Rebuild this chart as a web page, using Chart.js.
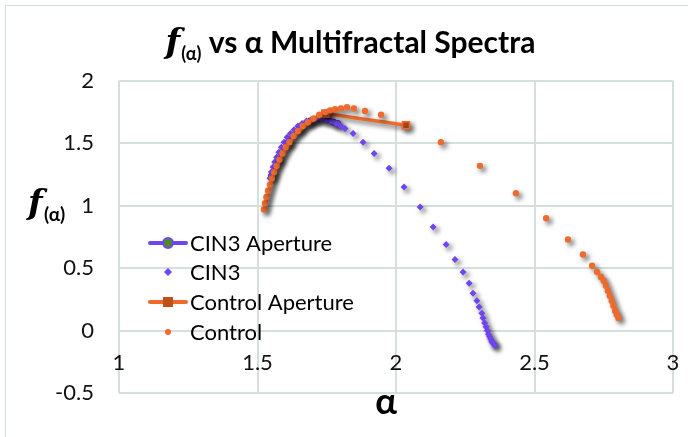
<!DOCTYPE html>
<html>
<head>
<meta charset="utf-8">
<script src="https://cdn.jsdelivr.net/npm/chart.js@4/dist/chart.umd.min.js"></script>
<style>
  html, body { margin: 0; padding: 0; background: #fff; }
  #wrap { width: 688px; height: 437px; position: relative; }
</style>
</head>
<body>
<div id="wrap"><canvas id="spectra"></canvas></div>
<script>
// ===== data (alpha, f(alpha)) =====
const cin3Alpha = [1.545,1.550,1.556,1.562,1.569,1.577,1.586,1.596,1.607,1.619,1.632,1.646,1.661,1.677,1.694,1.712,1.730,1.748,1.766,1.784,1.800,1.816,1.845,1.881,1.921,1.975,2.029,2.087,2.134,2.181,2.213,2.242,2.264,2.278,2.292,2.300,2.310,2.314,2.320,2.325,2.330,2.334,2.338,2.342,2.346,2.350,2.354,2.357];
const cin3F     = [1.22,1.27,1.31,1.35,1.39,1.43,1.47,1.51,1.55,1.58,1.61,1.64,1.66,1.68,1.69,1.70,1.70,1.69,1.68,1.66,1.64,1.62,1.58,1.51,1.42,1.30,1.15,0.99,0.83,0.69,0.57,0.47,0.38,0.30,0.24,0.19,0.14,0.10,0.06,0.03,0.00,-0.03,-0.05,-0.07,-0.09,-0.10,-0.11,-0.12];

const cin3ApAlpha = [1.550,1.575,1.610,1.650,1.690,1.720,1.750,1.775,1.790];
const cin3ApF     = [1.24,1.37,1.51,1.62,1.68,1.70,1.69,1.67,1.66];

const ctrlAlpha = [1.523,1.527,1.532,1.538,1.545,1.552,1.560,1.569,1.579,1.590,1.602,1.615,1.630,1.646,1.663,1.682,1.702,1.723,1.745,1.762,1.780,1.801,1.823,1.848,1.888,1.946,2.162,2.303,2.433,2.542,2.621,2.675,2.708,2.726,2.740,2.750,2.758,2.765,2.772,2.779,2.785,2.791,2.797,2.803];
const ctrlF     = [0.97,1.02,1.07,1.12,1.17,1.22,1.27,1.32,1.37,1.42,1.47,1.51,1.56,1.60,1.64,1.67,1.70,1.73,1.75,1.765,1.774,1.78,1.79,1.78,1.76,1.73,1.51,1.32,1.10,0.90,0.73,0.61,0.52,0.47,0.43,0.40,0.36,0.32,0.28,0.24,0.20,0.16,0.13,0.10];

const ctrlApAlpha = [1.523,1.540,1.560,1.590,1.630,1.670,1.710,1.745,2.036];
const ctrlApF     = [0.96,1.12,1.26,1.41,1.55,1.64,1.70,1.74,1.645];

const xTicks = [1, 1.5, 2, 2.5, 3];
const yTicks = [-0.5, 0, 0.5, 1, 1.5, 2];

const PURPLE = '#6f45f2';
const ORANGE = '#ee6b2d';
const FONT = 'Lato, "Open Sans", sans-serif';

function pts(xs, ys){ return xs.map((x,i) => ({x: x, y: ys[i]})); }

// drop shadow like the office chart
const shadowPlugin = {
  id: 'shadow',
  beforeDatasetDraw(chart){
    const c = chart.ctx;
    c.save();
    c.shadowColor = 'rgba(0,0,0,0.6)';
    c.shadowOffsetX = 3;
    c.shadowOffsetY = 3;
    c.shadowBlur = 5;
  },
  afterDatasetDraw(chart){ chart.ctx.restore(); }
};

// title, axis titles, legend and outer frame
const decoPlugin = {
  id: 'deco',
  afterDraw(chart){
    const c = chart.ctx;
    c.save();
    // outer frame
    c.strokeStyle = '#d9dede';
    c.lineWidth = 1;
    c.strokeRect(5.5, 5.5, 720, 480);

    c.fillStyle = '#000';
    c.textBaseline = 'alphabetic';
    // title
    const fPart = 'bold italic 34px "DejaVu Serif", serif';
    const subPart = 'bold 18px ' + FONT;
    const rest = ' vs \u03b1 Multifractal Spectra';
    const restFont = 'bold 30px ' + FONT;
    c.font = fPart; const wF = c.measureText('f').width;
    c.font = subPart; const wS = c.measureText('(\u03b1)').width;
    c.font = restFont; const wR = c.measureText(rest).width;
    let x = 350 - (wF + wS + wR) / 2;
    const by = 53;
    c.font = fPart; c.fillText('f', x, by); x += wF + 1;
    c.font = subPart; c.fillText('(\u03b1)', x, by + 7); x += wS;
    c.font = restFont; c.fillText(rest, x, by);

    // y title
    c.font = fPart; c.fillText('f', 28, 214);
    c.font = 'bold 19px ' + FONT; c.fillText('(\u03b1)', 44, 221);

    // x title
    c.font = 'bold 36px ' + FONT;
    c.textAlign = 'center';
    c.fillText('\u03b1', 386, 414);

    // legend
    c.textAlign = 'left';
    c.textBaseline = 'middle';
    c.font = '22px ' + FONT;
    const rows = [
      {y: 243, label: 'CIN3 Aperture', line: PURPLE, marker: 'circle'},
      {y: 272, label: 'CIN3', marker: 'diamond'},
      {y: 302, label: 'Control Aperture', line: ORANGE, marker: 'square'},
      {y: 332, label: 'Control', marker: 'dot'}
    ];
    rows.forEach(r => {
      const mx = 168;
      if (r.line){
        c.strokeStyle = r.line; c.lineWidth = 4; c.lineCap = 'round';
        c.beginPath(); c.moveTo(150, r.y); c.lineTo(186, r.y); c.stroke();
      }
      if (r.marker === 'circle'){
        c.beginPath(); c.arc(mx, r.y, 5, 0, Math.PI*2);
        c.fillStyle = '#4f8a23'; c.fill();
        c.lineWidth = 2; c.strokeStyle = PURPLE; c.stroke();
      } else if (r.marker === 'diamond'){
        c.beginPath(); c.moveTo(mx, r.y-4); c.lineTo(mx+4, r.y); c.lineTo(mx, r.y+4); c.lineTo(mx-4, r.y); c.closePath();
        c.fillStyle = PURPLE; c.fill();
      } else if (r.marker === 'square'){
        c.fillStyle = '#c0501a'; c.fillRect(mx-5, r.y-5, 10, 10);
      } else {
        c.beginPath(); c.arc(mx, r.y, 3, 0, Math.PI*2);
        c.fillStyle = ORANGE; c.fill();
      }
      c.fillStyle = '#000';
      c.fillText(r.label, 190, r.y + 1);
    });
    c.restore();
  }
};

const ctx = document.getElementById('spectra').getContext('2d');
const chart = new Chart(ctx, {
  type: 'scatter',
  data: {
    datasets: [
      {
        label: 'CIN3 Aperture',
        data: pts(cin3ApAlpha, cin3ApF),
        showLine: true,
        borderColor: PURPLE,
        borderWidth: 3,
        pointRadius: 3,
        pointBackgroundColor: '#8a6af5',
        pointBorderColor: '#4b2fd8',
        pointBorderWidth: 1,
        order: 4
      },
      {
        label: 'CIN3',
        data: pts(cin3Alpha, cin3F),
        pointStyle: 'rectRot',
        pointRadius: 3.5,
        backgroundColor: PURPLE,
        borderColor: PURPLE,
        borderWidth: 0,
        order: 3
      },
      {
        label: 'Control Aperture',
        data: pts(ctrlApAlpha, ctrlApF),
        showLine: true,
        borderColor: ORANGE,
        borderWidth: 3.5,
        pointStyle: 'rect',
        pointRadius: [0,0,0,0,0,0,0,5,5],
        pointBackgroundColor: '#c0501a',
        pointBorderColor: ORANGE,
        pointBorderWidth: 1.5,
        order: 2
      },
      {
        label: 'Control',
        data: pts(ctrlAlpha, ctrlF),
        pointRadius: 3.2,
        backgroundColor: ORANGE,
        borderColor: ORANGE,
        borderWidth: 0,
        order: 1
      }
    ]
  },
  options: {
    responsive: true,
    maintainAspectRatio: false,
    animation: false,
    layout: { padding: { left: 19, right: 15, top: 81, bottom: 44 } },
    plugins: {
      legend: { display: false },
      tooltip: { enabled: false }
    },
    scales: {
      x: {
        type: 'linear',
        position: { y: 0 },
        min: xTicks[0],
        max: xTicks[xTicks.length - 1],
        afterBuildTicks: s => { s.ticks = xTicks.map(v => ({value: v})); },
        afterFit: s => { s.paddingLeft = 0; s.paddingRight = 0; },
        grid: { color: '#d6dede', lineWidth: 2, drawTicks: false },
        border: { display: false },
        ticks: { color: '#111', font: { family: FONT, size: 22 }, padding: 19, maxRotation: 0,
                 callback: v => String(v) }
      },
      y: {
        type: 'linear',
        min: yTicks[0],
        max: yTicks[yTicks.length - 1],
        afterBuildTicks: s => { s.ticks = yTicks.map(v => ({value: v})); },
        afterFit: s => { s.width = 100; },
        grid: { color: '#d6dede', lineWidth: 2, drawTicks: false },
        border: { display: false },
        ticks: { color: '#111', font: { family: FONT, size: 22 }, padding: 25,
                 callback: v => String(v) }
      }
    }
  },
  plugins: [shadowPlugin, decoPlugin]
});
</script>
</body>
</html>
